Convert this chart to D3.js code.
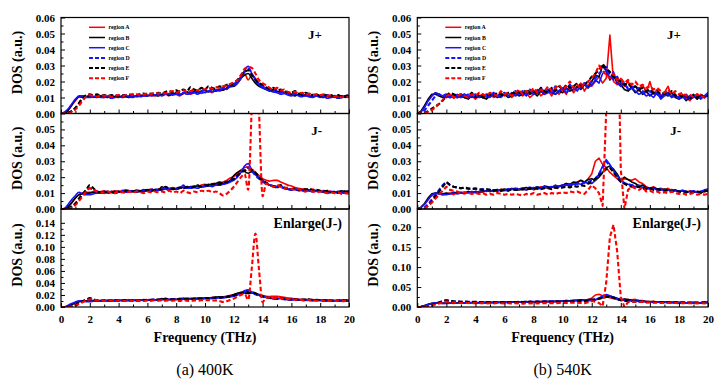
<!DOCTYPE html>
<html>
<head>
<meta charset="utf-8">
<script src="https://cdn.jsdelivr.net/npm/d3@7"></script>
<style>
  body { margin: 0; background: #fff; }
  svg { display: block; font-family: "Liberation Serif", "Times New Roman", serif; }
</style>
</head>
<body>
<svg id="chart" width="724" height="389"></svg>
<script>
// frequency grid (THz): every series is sampled at 0, 0.25, ... 20
const freq = d3.range(0, 81).map(i => i / 4);

const freqTicks = [0, 2, 4, 6, 8, 10, 12, 14, 16, 18, 20];
const dosTicksJ = [0, 0.01, 0.02, 0.03, 0.04, 0.05, 0.06];
const dosTicksEnl400 = [0, 0.02, 0.04, 0.06, 0.08, 0.10, 0.12, 0.14];
const dosTicksEnl540 = [0, 0.05, 0.10, 0.15, 0.20];

const regions = ["region A", "region B", "region C", "region D", "region E", "region F"];

// DOS values, in 10^-3 a.u.
// ---- 400K, J+
const jp400A = [0,0,2,5, 8,10.5,11,10.5, 11,10,11,10.5, 10,11,10,10.5, 11,10,10.5,11, 10.5,11,11.5,11, 11,11.5,11,12, 11.5,12,11,12.5, 12,11,12.5,13, 12,13,13.5,12.5, 13.5,14,13,14.5, 14,15,15.5,16.5, 17,19,22,25, 21,24,22,19, 17,16,15,14.5, 14,13,13.5,12.5, 12,12.5,11.5,12, 11.5,11,12,11, 10.5,11.5,10.5,11, 10,11,10,10.5, 10];
const jp400B = [0,0,2,5.5, 8.5,10.5,10,10.5, 11,10.5,10,11, 10.5,10,11,10.5, 10,11,10.5,10, 11,10.5,11,11.5, 11,12,11.5,11, 12,12.5,11.5,12, 13,12,12.5,13.5, 12.5,14,13,14, 14.5,13.5,15,14, 15,14.5,16,17, 17,19,22,24, 25,22,19,17, 16,15,14,15, 13.5,14,12.5,13, 12,11,12,11, 11.5,10.5,11,12, 10.5,10,11,10, 10.5,9.5,11,10, 10.5];
const jp400C = [0,1,3,6, 9,11,11,10, 10,10.5,11,10, 10,10.5,9.5,10, 10.5,10,11,10.5, 10,11,10.5,11, 11.5,11,11.5,12, 11,12,12.5,11.5, 12,11.5,13,12, 12.5,13,12,13.5, 13,14,13.5,15, 14.5,15.5,15,17, 17.5,19,22,27, 29.5,25,21,18, 16,15,14,13.5, 13,12,12.5,11.5, 11,12,11,10.5, 11,10.5,10,11, 10,10.5,9.5,10, 10.5,9.5,10,11, 10.5];
const jp400D = [0,0,0.5,1.5, 3.5,6.5,9.5,11, 11.5,11,11.5,10.5, 11,10.5,11,11.5, 10.5,11,11.5,11, 11.5,11,12,11.5, 11,12,12.5,11.5, 12,13,12,12.5, 13.5,12.5,13,14, 13,14.5,13.5,14, 15,14,15.5,14.5, 15.5,16,17,17.5, 18.5,20,23,26, 28,25,21,18.5, 17,16,15,14, 14.5,13,13.5,12.5, 12,12.5,11.5,12, 11.5,12,11,11.5, 11,10.5,11.5,10.5, 11,10,10.5,11, 11];
const jp400E = [0,0,0.5,1.5, 3.5,6.5,9.5,11.5, 12,11.5,12,11, 11.5,11,11.5,11, 11,11.5,11,11.5, 12,11.5,12,12.5, 12,12.5,12,13, 12.5,13.5,14,13, 14.5,13.5,15,14, 16.5,15,14.5,16, 15,17,16,15.5, 17,16.5,18,17.5, 19,21,24,26, 27,24,21,19, 18,16.5,15.5,16, 14.5,15,14,13.5, 13,14,12.5,12, 13,12,11.5,12, 11,12,11,11.5, 10.5,11.5,10.5,11, 11.5];
const jp400F = [0,0,0,1, 2.5,5,8,10.5, 11.5,11,10.5,11.5, 11,11.5,10.5,11, 11.5,11,11.5,12, 11.5,12,11.5,12, 12.5,12,13,12.5, 13,12.5,13.5,14, 13,14,14.5,13.5, 14,15,14.5,15.5, 15,16,15.5,16.5, 16,17,17.5,18.5, 19.5,21,24,28, 29,28.5,25,21, 19,17.5,16,15, 16,14.5,15,13.5, 13,13.5,12.5,13, 12,12.5,11.5,12, 11.5,12,11,11.5, 10.5,11,10,10.5, 10];
// ---- 400K, J-
const jm400A = [0,0,1.5,4, 7,9,10,10.5, 10.5,11,10.5,11, 11.5,10.5,11,11.5, 11,11.5,12,11.5, 11,12,11.5,12, 12,12.5,12,12.5, 13,12.5,13,13.5, 13,13.5,14,13.5, 14,14.5,14,15, 15.5,15,16,15.5, 16.5,17,18,19.5, 20.5,22.5,24.5,26, 26.5,25,23,21, 19,18,17.5,18, 18,17,16,15, 14.5,13.5,13,12.5, 12.5,12,12.5,11.5, 11.5,11,11.5,11, 10.5,11,10.5,10, 10];
const jm400B = [0,0,1.5,4, 7,9,9.5,10, 10,10.5,10,10.5, 10,11,10.5,10, 10.5,11,10.5,11, 11,10.5,11.5,11, 11.5,11,12,11.5, 14,12.5,12,13, 12.5,13,13.5,13, 14,13.5,15,14, 14.5,15.5,15,16, 17,16,16.5,18, 21,23,24,23.5, 22.5,23.5,22,19.5, 17.5,16,15,14, 13.5,14.5,13,12.5, 12,12.5,11.5,12, 12.5,11.5,11,11.5, 11,10.5,11,10.5, 10.5,10,11.5,10.5, 11];
const jm400C = [0,0.5,3,6, 8.5,10.5,9.5,9, 9,9.5,10,10, 10.5,10,10.5,11, 10.5,11,10.5,11, 11.5,11,11,11.5, 11.5,12,11.5,12, 12,12.5,12.5,13, 12.5,13,15,13, 13,13.5,13,14, 14,14.5,14,15, 15,15.5,16,17, 18,20,23,27, 28.5,24.5,21.5,19.5, 18,16.5,15,14.5, 14,14.5,13,12.5, 12,12.5,12,11.5, 11,11.5,11,11, 11.5,10.5,10,10.5, 11,10.5,10,11, 11.5];
const jm400D = [0,0,0.5,1.5, 3.5,6.5,9.5,11.5, 13,12,11,10.5, 11,10.5,11,10.5, 11,11.5,11,11, 11.5,11,11.5,12, 11.5,12,12.5,12, 12.5,13,12.5,13, 13,13.5,13,13.5, 14,13.5,14.5,14, 14.5,15,14.5,15.5, 15.5,16,17,18, 19,21,23,25, 26,24,21,19, 17,16,15,14.5, 14,13.5,13,12.5, 12.5,12,12,11.5, 12,11.5,11,11.5, 11,11.5,10.5,11, 10.5,11,10.5,10, 10.5];
const jm400E = [0,0,0.5,1.5, 3.5,6.5,9.5,12, 15,13,11,10.5, 10.5,11,10.5,11, 11,10.5,11.5,11, 11,11.5,11,11.5, 12,11.5,12,12.5, 12,14,13,12.5, 13,13.5,13,14, 13.5,14,14.5,14, 15,14.5,15.5,16, 15.5,16.5,17,18, 19,21,23,24, 25,24.5,23,20, 18,16.5,15,14.5, 14,15,13.5,13, 12.5,13,12,12.5, 12,13,11.5,12, 11.5,11,11.5,10.5, 11,10.5,11.5,11, 11];
const jm400F = [0,0,0,1, 2.5,5,8,11, 13,12,11,10.5, 10,11,10.5,10, 11,10.5,10,11, 10.5,11,10.5,10, 11,10.5,11,10.5, 11,10.5,11.5,10.5, 11,10,11.5,10.5, 10,11,10.5,11.5, 11,11.5,10.5,11, 10,8.5,9.5,11.5, 14,17,20,22, 12,65,122,62, 8,16,15.5,14, 15,14,13,13.5, 12.5,12,12.5,11.5, 11,11.5,11,10.5, 11,10.5,10,10.5, 10,10.5,9.5,10, 9.5];
// ---- 540K, J+
const jp540A = [0,1,4,8, 11,13,12,10.5, 10,12,9.5,11, 10,12,10,11, 9,11,12,10, 12,10,11,13, 11,13,10,12, 14,11,13,10, 12,15,11,13, 14,11,16,12, 15,12,17,13, 16,19,14,18, 17,20,23,19, 22,49,20,18, 22,17,20,16, 17,14,18,13, 20,12,15,11, 13,17,10,12, 9,12,10,8, 11,9,12,10, 11];
const jp540B = [0,1.5,5,9, 12,12,11,10, 11,10,12,10, 11,10,9,11, 10,11,10,9, 11,12,10,11, 12,10,11,13, 11,12,14,12, 13,11,14,12, 15,13,12,14, 13,16,14,15, 17,15,18,16, 20,24,23,30, 27,21,24,19, 18,15,14,16, 13,15,12,14, 11,13,12,10, 12,11,13,10, 9,11,8,10, 12,9,11,10, 12];
const jp540C = [0,1,4,8, 11,13,12,11, 10,11,10,12, 10,11,12,10, 11,10,12,11, 10,12,11,10, 12,11,13,11, 12,13,11,14, 12,13,15,12, 13,16,12,14, 16,13,15,17, 14,17,19,16, 18,21,19,25, 27,22,26,19, 17,19,15,16, 14,12,13,11, 12,10,13,9, 11,12,10,11, 9,10,12,9, 10,11,9,11, 13];
const jp540D = [0,0,2,5, 8,11,12,11, 12,10,11,10, 11,12,10,11, 12,10,11,12, 11,13,11,12, 13,11,12,14, 12,14,12,15, 13,14,16,13, 15,13,17,14, 16,15,18,15, 17,16,19,18, 20,22,25,27, 29,24,21,23, 19,18,16,17, 15,16,14,13, 14,12,13,11, 12,13,11,12, 10,11,9,11, 10,12,10,11, 11];
const jp540E = [0,0,0.5,1.5, 3,4.5,6,8, 11,13,12,11, 12,10,11,13, 11,12,10,11, 12,11,13,12, 11,13,12,14, 13,12,15,13, 14,13,16,14, 13,16,14,17, 15,18,16,17, 19,17,18,20, 23,25,27,31, 28,26,23,21, 20,18,19,16, 17,15,16,14, 15,13,14,12, 13,12,14,11, 12,10,11,9, 11,10,12,10, 11];
const jp540F = [0,0,0,1, 2,4,6,8.5, 11,12,10,11, 12,11,10,12, 11,13,12,11, 13,12,11,14, 12,13,11,13, 15,12,14,13, 16,13,15,14, 17,14,16,18, 15,17,20,16, 18,16,19,20, 22,25,30,27, 24,22,25,21, 22,19,21,18, 20,17,18,16, 17,15,16,14, 13,15,12,14, 12,13,11,12, 10,12,11,10, 10];
// ---- 540K, J-
const jm540A = [0,1,3,6, 8.5,10,9.5,9, 9.5,10,9,10.5, 10,9.5,10.5,11, 10,11,10.5,11.5, 11,12,11,12.5, 11.5,12,13,12, 12.5,13,12,13.5, 12,13,14,13, 13.5,14,13,14.5, 15,16,14.5,16, 17,18,16.5,19, 22,30,32,28, 26,23,21,19, 17,19,18.5,18, 19,17,16,14, 13,14,12.5,13, 12,13,11.5,12, 11,12,10,11.5, 10.5,11,10,11, 11.5];
const jm540B = [0,1,3.5,7, 9.5,10,10,9.5, 10,9.5,10.5,10, 10.5,10,11,10.5, 11,10.5,11,11.5, 11,12,11.5,12, 12.5,12,12.5,13, 12,13,13.5,12.5, 13,14,13,14.5, 14,13.5,15,14, 15,16,15.5,17, 16.5,18,17,18.5, 19,18,20,23, 26,27,25,22, 18,20,18.5,17, 16,14.5,15,13.5, 13,13.5,12.5,12, 12.5,12,11.5,12, 11,11.5,10.5,11, 11,10.5,10,11.5, 11];
const jm540C = [0,1,3,6, 9,10,9.5,9, 9,9.5,10,9.5, 10,10.5,10,11, 10.5,11,11.5,11, 11.5,11,12,11.5, 12,11.5,12.5,12, 12.5,13,12,13, 13.5,12.5,13,14, 13,14,13.5,14.5, 14,15,14.5,15.5, 16,15.5,17,16, 16,18,22,27, 31,28,24,21, 18,16.5,15.5,15, 14,15,13.5,13, 12.5,13,12,12.5, 11.5,12,11,11.5, 11,11.5,10.5,11, 11.5,10.5,11,12, 12.5];
const jm540D = [0,0,1,3, 6,9,12,15, 17,15,14,13.5, 13,13.5,12.5,13, 12.5,12,12.5,11.5, 12,11.5,12,11.5, 12,12.5,12,12.5, 13,12.5,13,13.5, 13,13.5,13,14, 13.5,14,14.5,14, 15,14.5,15.5,15, 16,15.5,16.5,17, 18,19,22,26, 30,27,24,20, 17,16,15.5,15, 14.5,14,13.5,13, 13,12.5,12,12.5, 12,11.5,12,11.5, 11,11.5,11,10.5, 11,10.5,11,11.5, 12];
const jm540E = [0,0,0.5,2, 4.5,8,11,14, 17,15,14,13.5, 13,13.5,13,12.5, 13,12.5,12,12.5, 12,11.5,12,11.5, 12,11.5,12.5,12, 12,12.5,12,13, 12.5,13,12.5,13, 13,12.5,13.5,13, 13.5,14,13.5,14.5, 14,15,14.5,16, 17,19,21,23, 25,26,23,20, 17,16,14.5,14, 13.5,14,13,12.5, 13,12,12.5,12, 11.5,12,11,11.5, 11,10.5,11,10, 10.5,11,10.5,11, 11.5];
const jm540F = [0,0,0.5,2, 4,6.5,9,11.5, 14,12,11.5,11, 10,10.5,10,9.5, 10,9.5,10,9, 9.5,9,10,9.5, 9,9.5,9,9.5, 9,8.5,9.5,9, 10,9,9.5,10, 9,10,9.5,10, 10.5,10,11,10.5, 11,10,9.5,12, 15,13,10,2, 62,175,206,140, 25,0,12,14, 13,12,13.5,11, 11.5,10.5,11,10, 10.5,10,11,10, 9.5,10,9,9.5, 10,9,9.5,9, 9.5];

const regionColor = ["#ff0000", "#000000", "#1414ff", "#1414ff", "#000000", "#ff0000"];
const regionDash = [null, null, null, "4.5,2.5", "4.5,2.5", "4.5,2.5"];

let columns = [
    { left: 61, right: 349, caption: "(a) 400K", curve: d3.curveMonotoneX,
      jp: [jp400A, jp400B, jp400C, jp400D, jp400E, jp400F],
      jm: [jm400A, jm400B, jm400C, jm400D, jm400E, jm400F],
      enlMax: 0.163, enlTicks: dosTicksEnl400 },
    { left: 417.3, right: 708, caption: "(b) 540K", curve: d3.curveLinear,
      jp: [jp540A, jp540B, jp540C, jp540D, jp540E, jp540F],
      jm: [jm540A, jm540B, jm540C, jm540D, jm540E, jm540F],
      enlMax: 0.2455, enlTicks: dosTicksEnl540 }
];

// vertical position of the three stacked panels
let panelTop = [17.5, 113.5, 209];
let panelBottom = [113.5, 209, 307];

let svg = d3.select("#chart");
let clipId = 0;

// midpoints between major ticks
function minorsOf(ticks) {
    let out = [];
    for (let i = 0; i < ticks.length - 1; i++) out.push((ticks[i] + ticks[i + 1]) / 2);
    return out;
}

columns.forEach(col => {
    let x = d3.scaleLinear().domain([0, 20]).range([col.left, col.right]);

    let panels = [
        { series: col.jp, yMax: 0.06, ticks: dosTicksJ, minor: minorsOf(dosTicksJ), label: "J+", legend: true },
        { series: col.jm, yMax: 0.06, ticks: dosTicksJ.slice(0, 6), minor: minorsOf(dosTicksJ), label: "J-" },
        { series: col.jm, yMax: col.enlMax, ticks: col.enlTicks, minor: minorsOf(col.enlTicks), label: "Enlarge(J-)", bottom: true }
    ];

    panels.forEach((p, k) => {
        let top = panelTop[k], bot = panelBottom[k];
        let y = d3.scaleLinear().domain([0, p.yMax]).range([bot, top]);
        let g = svg.append("g");

        let id = "clip" + (clipId++);
        svg.append("clipPath").attr("id", id)
            .append("rect")
            .attr("x", col.left).attr("y", top)
            .attr("width", col.right - col.left).attr("height", bot - top);

        let line = d3.line()
            .x((d, i) => x(freq[i]))
            .y(d => y(d / 1000))
            .curve(col.curve);

        let curves = g.append("g").attr("clip-path", "url(#" + id + ")");
        p.series.forEach((s, r) => {
            curves.append("path")
                .attr("d", line(s))
                .attr("fill", "none")
                .attr("stroke", regionColor[r])
                .attr("stroke-width", regionDash[r] ? 2.1 : 1.6)
                .attr("stroke-dasharray", regionDash[r])
                .attr("stroke-linejoin", "round");
        });

        // y axis, ticks inside
        g.append("g")
            .attr("transform", "translate(" + col.left + ",0)")
            .call(d3.axisLeft(y).tickValues(p.minor).tickSize(-2.5).tickFormat(""))
            .call(a => a.select(".domain").remove());
        g.append("g")
            .attr("transform", "translate(" + col.left + ",0)")
            .call(d3.axisLeft(y).tickValues(p.ticks).tickSizeInner(-4).tickSizeOuter(0)
                .tickPadding(6).tickFormat(d3.format(".2f")))
            .call(a => a.select(".domain").remove())
            .call(a => a.selectAll("text")
                .attr("font-family", "Liberation Serif")
                .attr("font-weight", "bold")
                .attr("font-size", 11)
                .attr("fill", "#000"));

        // x axis, ticks inside
        g.append("g")
            .attr("transform", "translate(0," + bot + ")")
            .call(d3.axisBottom(x).tickValues(minorsOf(freqTicks)).tickSize(-2.5).tickFormat(""))
            .call(a => a.select(".domain").remove());
        g.append("g")
            .attr("transform", "translate(0," + bot + ")")
            .call(d3.axisBottom(x).tickValues(freqTicks).tickSizeInner(-4).tickSizeOuter(0)
                .tickPadding(8).tickFormat(p.bottom ? d3.format("d") : ""))
            .call(a => a.select(".domain").remove())
            .call(a => a.selectAll("text")
                .attr("font-family", "Liberation Serif")
                .attr("font-weight", "bold")
                .attr("font-size", 11)
                .attr("fill", "#000"));

        g.selectAll(".tick line").attr("stroke", "#000").attr("stroke-width", 1);

        // frame
        g.append("rect")
            .attr("x", col.left).attr("y", top)
            .attr("width", col.right - col.left).attr("height", bot - top)
            .attr("fill", "none").attr("stroke", "#000").attr("stroke-width", 1.2);

        // y title
        g.append("text")
            .attr("transform", "rotate(-90)")
            .attr("x", -((top + bot) / 2 - 3))
            .attr("y", col.left - 39)
            .attr("text-anchor", "middle")
            .attr("font-weight", "bold")
            .attr("font-size", 14)
            .text("DOS (a.u.)");

        // panel tag
        g.append("text")
            .attr("x", p.bottom ? col.right - 7 : col.right - 27)
            .attr("y", k === 0 ? top + 21 : (k === 1 ? top + 21.5 : top + 19))
            .attr("text-anchor", "end")
            .attr("font-weight", "bold")
            .attr("font-size", p.bottom ? 14 : 13)
            .text(p.label);

        if (p.legend) {
            let lg = g.append("g").attr("transform", "translate(" + (col.left + 28) + ",27.3)");
            regions.forEach((name, r) => {
                let row = lg.append("g").attr("transform", "translate(0," + (r * 10.2) + ")");
                row.append("line")
                    .attr("x1", 0).attr("x2", 16)
                    .attr("stroke", regionColor[r])
                    .attr("stroke-width", regionDash[r] ? 2 : 1.5)
                    .attr("stroke-dasharray", regionDash[r] ? "4,2" : null);
                row.append("text")
                    .attr("x", 19.5).attr("y", 2)
                    .attr("font-weight", "bold")
                    .attr("font-size", 5.8)
                    .text(name);
            });
        }

        if (p.bottom) {
            g.append("text")
                .attr("x", (col.left + col.right) / 2)
                .attr("y", 342)
                .attr("text-anchor", "middle")
                .attr("font-weight", "bold")
                .attr("font-size", 14)
                .text("Frequency (THz)");
        }
    });

    svg.append("text")
        .attr("x", (col.left + col.right) / 2)
        .attr("y", 375)
        .attr("text-anchor", "middle")
        .attr("font-size", 16)
        .text(col.caption);
});
</script>
</body>
</html>
